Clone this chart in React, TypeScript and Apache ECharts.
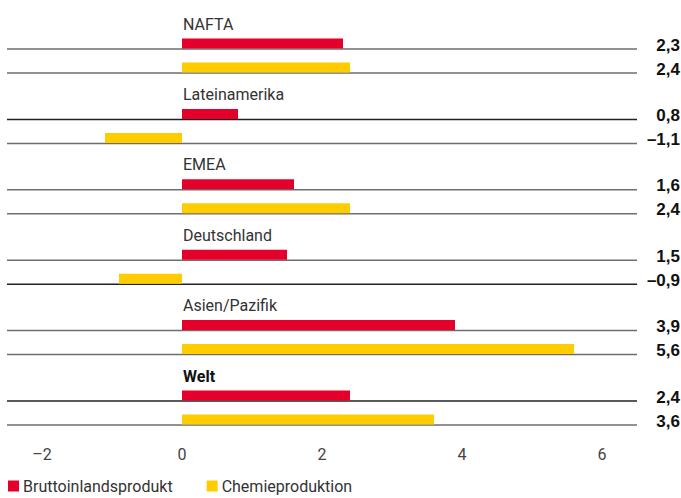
import React, { useEffect, useRef } from "react";
import * as echarts from "echarts";

const regions = ["NAFTA", "Lateinamerika", "EMEA", "Deutschland", "Asien/Pazifik", "Welt"];
const gdp = [2.3, 0.8, 1.6, 1.5, 3.9, 2.4];
const chem = [2.4, -1.1, 2.4, -0.9, 5.6, 3.6];
const xTicks = [-2, 0, 2, 4, 6];
const seriesNames = ["Bruttoinlandsprodukt", "Chemieproduktion"];

const RED = "#e4002b";
const YELLOW = "#ffcc00";
const ROW_OFFSET = 24 / 70.4;

const fmt = (v: number) => v.toFixed(1).replace(".", ",").replace("-", "\u2013");
const FONT = "Roboto, 'Liberation Sans', sans-serif";

function makeRender(color: string, withLabel: boolean, darkRows: number[]) {
  return (params: any, api: any) => {
    const v = api.value(0);
    const y = api.value(1);
    const idx = params.dataIndex;
    const p0 = api.coord([0, y]);
    const p1 = api.coord([v, y]);
    const cs = params.coordSys;
    const children: any[] = [
      {
        type: "line",
        shape: { x1: cs.x, y1: p0[1], x2: cs.x + cs.width, y2: p0[1] },
        style: { stroke: darkRows.includes(idx) ? "#222" : "#6e6e6e", lineWidth: 1.5 },
      },
      {
        type: "rect",
        shape: { x: Math.min(p0[0], p1[0]), y: p0[1] - 10.5, width: Math.abs(p1[0] - p0[0]), height: 10 },
        style: { fill: color },
      },
      {
        type: "text",
        x: 680,
        y: p0[1] - 4,
        style: {
          text: fmt(v),
          align: "right",
          verticalAlign: "middle",
          font: "bold 17px 'Liberation Sans', Arial, sans-serif",
          fill: "#111",
        },
      },
    ];
    if (withLabel) {
      const isWelt = regions[idx] === "Welt";
      children.push({
        type: "text",
        x: p0[0] + 1,
        y: p0[1] - 25,
        style: {
          text: regions[idx],
          align: "left",
          verticalAlign: "middle",
          font: (isWelt ? "bold " : "") + "16px " + FONT,
          fill: isWelt ? "#111" : "#333",
        },
      });
    }
    return { type: "group", children };
  };
}

export default function App() {
  const ref = useRef<HTMLDivElement>(null);
  useEffect(() => {
    if (!ref.current) return;
    const chart = echarts.init(ref.current, null, { renderer: "svg" });
    chart.setOption({
      animation: false,
      grid: { left: 7, right: 44, top: 49 - 0.5 * 70.4, height: 6 * 70.4 },
      xAxis: {
        type: "value",
        min: -2.5,
        max: 6.5,
        axisLine: { show: false },
        axisTick: { show: false },
        splitLine: { show: false },
        axisLabel: {
          customValues: xTicks,
          formatter: (v: number) => String(v).replace("-", "\u2013"),
          color: "#444",
          fontSize: 16,
          fontFamily: FONT,
          margin: 10,
        },
      },
      yAxis: { type: "value", inverse: true, min: -0.5, max: 5.5, show: false },
      legend: {
        left: 3,
        top: 476,
        padding: [2, 5, 0, 5],
        icon: "rect",
        itemWidth: 11,
        itemHeight: 11,
        itemGap: 34,
        textStyle: { fontSize: 16, fontFamily: FONT, color: "#333", padding: [0, 0, 0, -1] },
        data: [
          { name: seriesNames[0], itemStyle: { color: RED } },
          { name: seriesNames[1], itemStyle: { color: YELLOW } },
        ],
      },
      series: [
        {
          type: "custom",
          name: seriesNames[0],
          itemStyle: { color: RED },
          renderItem: makeRender(RED, true, [1, 5]),
          data: gdp.map((v, i) => [v, i]),
          encode: { x: 0, y: 1 },
        },
        {
          type: "custom",
          name: seriesNames[1],
          itemStyle: { color: YELLOW },
          renderItem: makeRender(YELLOW, false, [3]),
          data: chem.map((v, i) => [v, i + ROW_OFFSET]),
          encode: { x: 0, y: 1 },
        },
      ],
    });
    return () => chart.dispose();
  }, []);
  return <div ref={ref} style={{ width: 681, height: 498, position: "absolute", left: 0, top: 0 }} />;
}
